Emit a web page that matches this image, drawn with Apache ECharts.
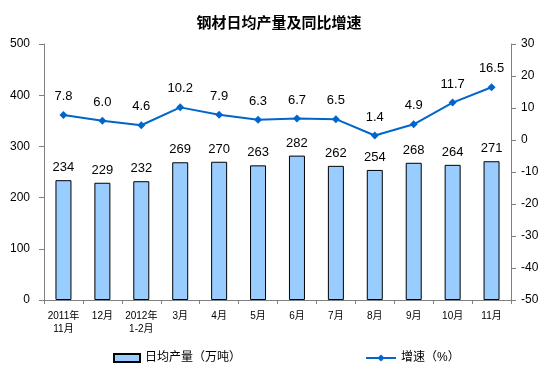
<!DOCTYPE html>
<html><head><meta charset="utf-8">
<script src="https://cdn.jsdelivr.net/npm/echarts@6/dist/echarts.min.js"></script>
<style>html,body{margin:0;padding:0;background:#fff}#c{width:558px;height:373px}</style>
</head><body><div id="c"></div>
<script>
const categories = ['2011年\n11月','12月','2012年\n1-2月','3月','4月','5月','6月','7月','8月','9月','10月','11月'];
const output = [234,229,232,269,270,263,282,262,254,268,264,271];
const growth = [7.8,6.0,4.6,10.2,7.9,6.3,6.7,6.5,1.4,4.9,11.7,16.5];
const barName = '日均产量（万吨）';
const lineName = '增速（%）';
const font = '"Liberation Sans", Arial, "Noto Sans CJK SC", sans-serif';
const chart = echarts.init(document.getElementById('c'));
chart.setOption({
  animation:false,
  textStyle:{fontFamily:font},
  title:{text:'钢材日均产量及同比增速',left:'center',top:11,textStyle:{fontSize:15,fontWeight:'bold',color:'#000',fontFamily:font}},
  grid:{left:44,right:47,top:44,bottom:73},
  legend:[
    {data:[{name:barName,icon:'rect'}],left:108,top:347,itemWidth:26,itemHeight:8,textStyle:{fontSize:12,color:'#000'}},
    {data:[lineName],left:360,top:347,itemWidth:30,itemHeight:9,textStyle:{fontSize:12,color:'#000'}}
  ],
  xAxis:{type:'category',data:categories,
    axisLine:{lineStyle:{color:'#808080'}},
    axisTick:{show:true,length:4,lineStyle:{color:'#808080'}},
    axisLabel:{fontSize:10,color:'#000',interval:0,margin:10,lineHeight:13}},
  yAxis:[
    {type:'value',min:0,max:500,interval:100,splitLine:{show:false},
     axisLine:{show:true,lineStyle:{color:'#808080'}},axisTick:{show:true,length:5,lineStyle:{color:'#808080'}},
     axisLabel:{fontSize:12,color:'#000',margin:14}},
    {type:'value',min:-50,max:30,interval:10,splitLine:{show:false},
     axisLine:{show:true,lineStyle:{color:'#808080'}},axisTick:{show:true,length:5,lineStyle:{color:'#808080'}},
     axisLabel:{fontSize:12,color:'#000',margin:10}}
  ],
  series:[
    {name:barName,type:'bar',data:output,barWidth:16,yAxisIndex:0,
     itemStyle:{color:'#99CCFF',borderColor:'#000',borderWidth:1},
     label:{show:true,position:'top',fontSize:13,color:'#000',distance:6}},
    {name:lineName,type:'line',data:growth,yAxisIndex:1,
     symbol:'diamond',symbolSize:8,
     lineStyle:{color:'#0066CC',width:2},itemStyle:{color:'#0066CC'},
     label:{show:true,position:'top',fontSize:13,color:'#000',distance:8,formatter:p=>p.value.toFixed(1)}}
  ]
});
</script></body></html>
